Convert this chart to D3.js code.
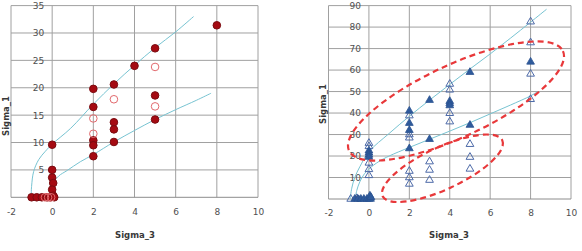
<!DOCTYPE html>
<html>
<head>
<meta charset="utf-8">
<script src="https://cdn.jsdelivr.net/npm/d3@7"></script>
<style>
  body { margin: 0; background: #fff; }
  text { font-family: "DejaVu Sans", Verdana, sans-serif; }
</style>
</head>
<body>
<script>
// ---- data (sigma_3, sigma_1) ----
const xTicks = [-2, 0, 2, 4, 6, 8, 10]
const leftYTicks = [0, 5, 10, 15, 20, 25, 30, 35]
const rightYTicks = [0, 10, 20, 30, 40, 50, 60, 70, 80, 90]

const leftFilled = [[8,31.4],[5,27.2],[4,24],[3,20.6],[2,19.8],[2,16.5],[5,18.6],[5,14.2],
  [3,13.7],[3,12.4],[3,10.1],[2,10.4],[2,9.5],[2,7.5],[0,9.6],[0,5],[0,3.6],[0.05,2.6],
  [0,1.4],[0.05,0.3],[-1,0],[-0.75,0],[-0.5,0],[-0.25,0],[-0.1,0],[0.1,0]]
const leftOpen = [[5,23.8],[5,16.6],[3,17.9],[2,14.4],[2,11.6],[-0.35,0],[-0.2,0],[-0.05,0]]
const leftUpper = [[-1.02,0],[-1,2],[-0.9,4.7],[-0.65,6.9],[-0.33,8.4],[0,9.7],[0.9,12.6],
  [2,17],[3,20.7],[4,24.1],[5,27.3],[6,30.2],[6.87,33]]
const leftLower = [[-0.15,0],[-0.05,1.5],[0.08,2.8],[0.32,3.9],[0.73,4.9],[1.37,6.5],[2,7.8],
  [3,10.1],[4,12.2],[5,14.2],[6,16],[7,17.7],[7.72,19]]

const rightFilled = [[8,63.8],[5,59],[5,34.4],[4,45.5],[4,44.5],[4,43.5],[3,46],[3,27.8],
  [2,41],[2,35.3],[2,32],[2,23.5],[0,22.5],[0,21.5],[0,20.5],[0,19.5],
  [-0.7,0],[-0.55,0],[-0.4,0],[-0.25,0],[-0.1,0],[0,0],[0.08,0],[0.05,1.5],[0.1,0.8]]
const rightOpen = [[8,82.5],[8,72.8],[8,58.2],[8,46.4],[5,25.5],[5,19.5],[5,14],
  [4,53.5],[4,50.8],[4,39.9],[4,36],[3,17.4],[3,13.5],[3,8.8],
  [2,38.8],[2,30],[2,28.5],[2,13],[2,10],[2,7],[0,26],[0,24.5],[0,16.8],[0,13.8],[0,11],
  [-0.9,0],[-0.6,0.3]]
const rightUpper = [[-0.93,0],[-0.85,5],[-0.7,10],[-0.45,15],[0,22],[1,30.5],[2,38.5],
  [3,46],[4,53.3],[5,60.5],[6,67.5],[7,74.8],[8,82.3],[8.79,88.3]]
const rightLower = [[-0.68,0],[-0.6,4],[-0.45,8],[-0.2,12],[0,14],[0.5,17.5],[1,20],[2,24],
  [3,27.8],[4,31.6],[5,35.5],[6,39.6],[7,43.7],[8,48],[8.35,50]]

// dashed ellipses: centre in data units
const ellipses = [
  {cx: 4.31, cy: 45.6, rx: 118, ry: 36, angle: -25},
  {cx: 3.64, cy: 14.3, rx: 66, ry: 21, angle: -25}
]

const width = 582
const height = 251
const svg = d3.select('body').append('svg')
  .attr('width', width)
  .attr('height', height)

function panel(opts){
  const x = d3.scaleLinear().domain([-2, 10]).range(opts.xr)
  const y = d3.scaleLinear().domain([0, opts.ymax]).range(opts.yr)
  const g = svg.append('g')

  // grid
  g.append('g').selectAll('line').data(xTicks).enter().append('line')
    .attr('x1', d => x(d)).attr('x2', d => x(d))
    .attr('y1', y(0)).attr('y2', y(opts.ymax))
    .attr('stroke', '#a0a0a0').attr('stroke-width', 1)
  g.append('g').selectAll('line').data(opts.yTicks).enter().append('line')
    .attr('x1', x(-2)).attr('x2', x(10))
    .attr('y1', d => y(d)).attr('y2', d => y(d))
    .attr('stroke', d => d === 0 ? '#8c8c8c' : '#a0a0a0').attr('stroke-width', 1)

  // tick labels
  const yAxis = d3.axisLeft(y).tickValues(opts.yTicks).tickSize(0).tickPadding(8)
    .tickFormat(d => String(d))
  const ya = g.append('g').attr('transform', `translate(${x(0)},0)`).call(yAxis)
  ya.select('.domain').remove()
  ya.selectAll('text').attr('fill', '#505050').style('font-size', '9px')
    .style('font-family', '"DejaVu Sans", Verdana, sans-serif')

  const xAxis = d3.axisBottom(x).tickValues(xTicks).tickSize(0).tickPadding(0)
    .tickFormat(d => String(d))
  const xa = g.append('g').attr('transform', `translate(0,${y(0) + 11})`).call(xAxis)
  xa.select('.domain').remove()
  xa.selectAll('text').attr('fill', '#505050').style('font-size', '9px')
    .style('font-family', '"DejaVu Sans", Verdana, sans-serif')

  // axis titles
  g.append('text')
    .attr('x', opts.xTitle[0]).attr('y', opts.xTitle[1])
    .attr('text-anchor', 'middle').attr('font-size', 8.5).attr('font-weight', 'bold')
    .attr('fill', '#383838').text('Sigma_3')
  g.append('text')
    .attr('transform', `translate(${opts.yTitle[0]},${opts.yTitle[1]}) rotate(-90)`)
    .attr('text-anchor', 'middle').attr('font-size', 8.5).attr('font-weight', 'bold')
    .attr('fill', '#383838').text('Sigma_1')

  // fitted curves
  const line = d3.line().x(d => x(d[0])).y(d => y(d[1])).curve(d3.curveCatmullRom)
  g.selectAll('path.fit').data(opts.curves).enter().append('path')
    .attr('class', 'fit')
    .attr('d', line)
    .attr('fill', 'none').attr('stroke', '#78c4d2').attr('stroke-width', 1)

  return {g, x, y}
}

// ---- left chart ----
const L = panel({
  xr: [11, 258], yr: [197.3, 5.6], ymax: 35, yTicks: leftYTicks,
  xTitle: [135, 238], yTitle: [9, 116], curves: [leftUpper, leftLower]
})
L.g.append('g').selectAll('circle').data(leftFilled).enter().append('circle')
  .attr('cx', d => L.x(d[0])).attr('cy', d => L.y(d[1])).attr('r', 3.8)
  .attr('fill', '#a50a12').attr('stroke', '#7a0b10').attr('stroke-width', 1)
L.g.append('g').selectAll('circle').data(leftOpen).enter().append('circle')
  .attr('cx', d => L.x(d[0])).attr('cy', d => L.y(d[1])).attr('r', 3.8)
  .attr('fill', 'none').attr('stroke', '#e2696d').attr('stroke-width', 1)

// ---- right chart ----
const R = panel({
  xr: [328.5, 571], yr: [199, 5.6], ymax: 90, yTicks: rightYTicks,
  xTitle: [449, 238], yTitle: [326, 104], curves: [rightUpper, rightLower]
})
const tri = d3.symbol().type(d3.symbolTriangle).size(26)
R.g.append('g').selectAll('path').data(rightOpen).enter().append('path')
  .attr('transform', d => `translate(${R.x(d[0])},${R.y(d[1])})`)
  .attr('d', tri)
  .attr('fill', 'none').attr('stroke', '#4d6aa8').attr('stroke-width', 1)
R.g.append('g').selectAll('path').data(rightFilled).enter().append('path')
  .attr('transform', d => `translate(${R.x(d[0])},${R.y(d[1])})`)
  .attr('d', tri)
  .attr('fill', '#2f5b9c').attr('stroke', '#2a5290').attr('stroke-width', 0.8)

R.g.append('g').selectAll('ellipse').data(ellipses).enter().append('ellipse')
  .attr('transform', d => `translate(${R.x(d.cx)},${R.y(d.cy)}) rotate(${d.angle})`)
  .attr('rx', d => d.rx).attr('ry', d => d.ry)
  .attr('fill', 'none').attr('stroke', '#e8383a').attr('stroke-width', 2.2)
  .attr('stroke-dasharray', '6,4')
</script>
</body>
</html>
